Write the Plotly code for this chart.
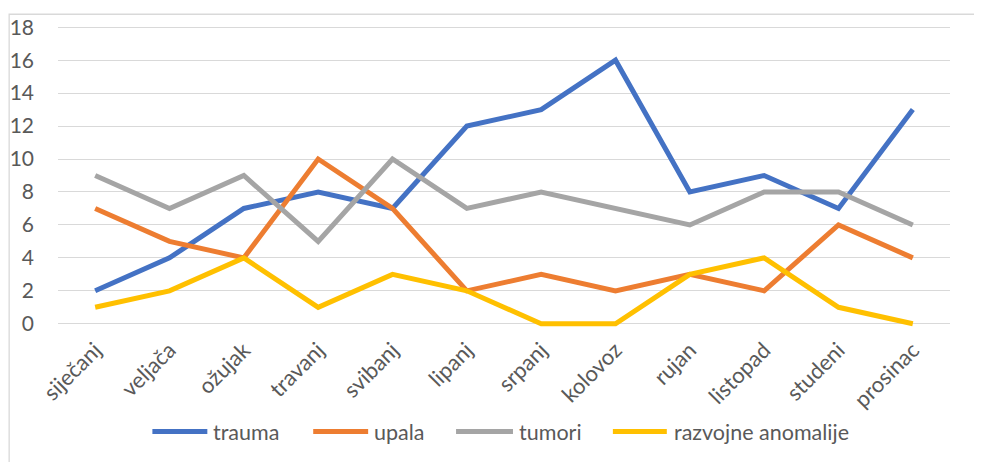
import plotly.graph_objects as go

months = ["siječanj", "veljača", "ožujak", "travanj", "svibanj", "lipanj",
          "srpanj", "kolovoz", "rujan", "listopad", "studeni", "prosinac"]
trauma = [2, 4, 7, 8, 7, 12, 13, 16, 8, 9, 7, 13]
upala = [7, 5, 4, 10, 7, 2, 3, 2, 3, 2, 6, 4]
tumori = [9, 7, 9, 5, 10, 7, 8, 7, 6, 8, 8, 6]
razvojne = [1, 2, 4, 1, 3, 2, 0, 0, 3, 4, 1, 0]

series_names = ["trauma", "upala", "tumori", "razvojne anomalije"]
series_values = [trauma, upala, tumori, razvojne]
colors = ["#4472C4", "#ED7D31", "#A5A5A5", "#FFC000"]

OFF = 8  # default body margin of the page
PW, PH = 982, 462
W, H = PW - OFF, PH - OFF
L, R = 57.5, 950.5          # plot area in page pixels
TOP, BOT = 18.75, 332.25
FONT = "Lato"
TXT = "#595959"


def px(x):
    return (x - L) / (R - L)


def py(y):
    return (BOT - y) / (BOT - TOP)


fig = go.Figure()
for name, vals, c in zip(series_names, series_values, colors):
    fig.add_trace(go.Scatter(
        x=months, y=vals, name=name, mode="lines",
        line=dict(color=c, width=5), showlegend=False,
    ))

shapes = [dict(type="rect", xref="paper", yref="paper",
               x0=px(8.6), x1=px(990), y0=py(470), y1=py(14),
               line=dict(color="#D9D9D9", width=1.3), layer="below")]
annotations = []
legend_pos = [(152, 207, 211), (313, 368, 372), (456, 513, 517), (613, 667, 672)]
ly = 432
for (x0, x1, tx), name, c in zip(legend_pos, series_names, colors):
    shapes.append(dict(type="line", xref="paper", yref="paper",
                       x0=px(x0), x1=px(x1), y0=py(ly), y1=py(ly),
                       line=dict(color=c, width=5)))
    annotations.append(dict(xref="paper", yref="paper", x=px(tx), y=py(ly),
                            text=name, showarrow=False, xanchor="left",
                            yanchor="middle",
                            font=dict(family=FONT, size=21.5, color=TXT)))

fig.update_layout(
    width=W, height=H,
    margin=dict(l=L - OFF, r=PW - R, t=TOP - OFF, b=PH - BOT, pad=0,
                autoexpand=False),
    plot_bgcolor="white", paper_bgcolor="white",
    font=dict(family=FONT, size=21, color=TXT),
    shapes=shapes, annotations=annotations,
    xaxis=dict(type="category", range=[-0.5, 11.5], showgrid=False,
               showline=False, zeroline=False, ticks="", tickangle=-45,
               automargin=False,
               tickfont=dict(family=FONT, size=22, color=TXT),
               ticklabelstandoff=0),
    yaxis=dict(range=[-0.5, 18.5], tick0=0, dtick=2, showgrid=True,
               gridcolor="#D9D9D9", gridwidth=1.3, zeroline=False,
               showline=False, ticks="", automargin=False,
               tickfont=dict(family=FONT, size=21, color=TXT),
               ticklabelstandoff=23),
)

fig.write_html("out.html")
